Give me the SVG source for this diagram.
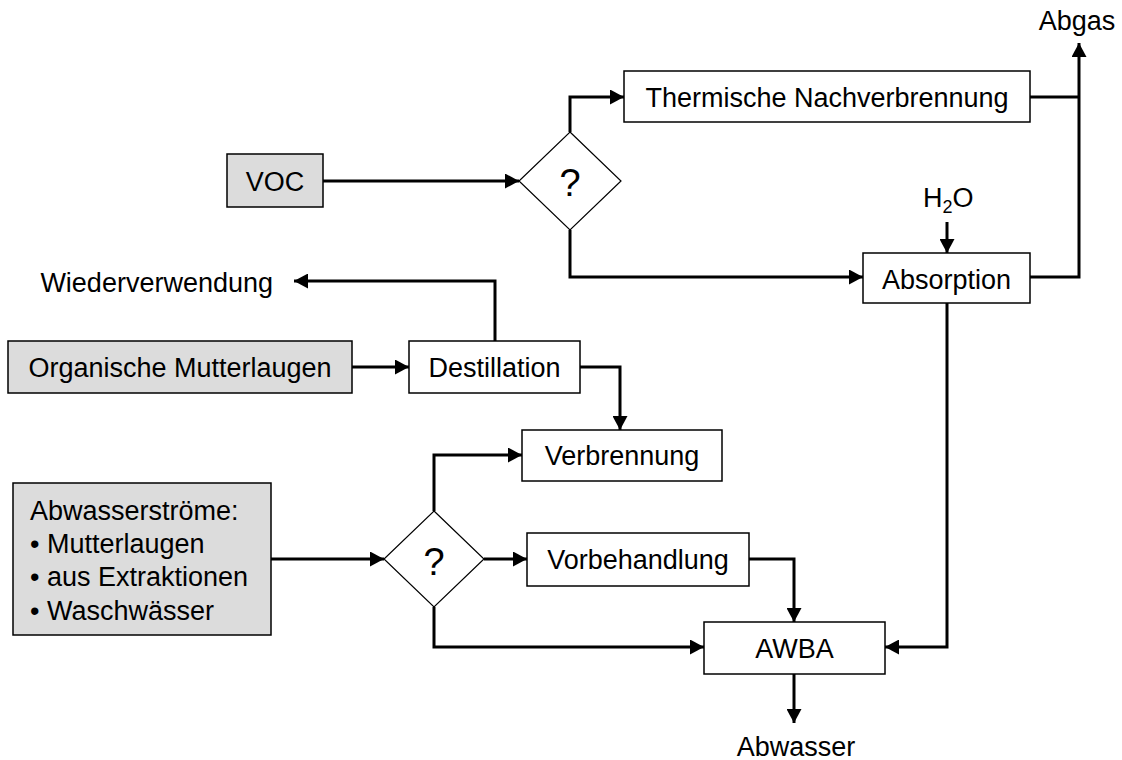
<svg xmlns="http://www.w3.org/2000/svg" width="1122" height="760" viewBox="0 0 1122 760">
<style>
.box{fill:#fff;stroke:#000;stroke-width:1.5}
.src{fill:#dcdcdc;stroke:#000;stroke-width:1.5}
.dia{fill:#fff;stroke:#000;stroke-width:1.2}
.t{font-family:"Liberation Sans",Arial,sans-serif;font-size:27px;fill:#000}
.m{text-anchor:middle}
.q{font-family:"Liberation Sans",Arial,sans-serif;font-size:38px;fill:#000;text-anchor:middle}
.c{fill:none;stroke:#000;stroke-width:3}
.a{marker-end:url(#ah)}
</style>
<defs>
<marker id="ah" markerUnits="userSpaceOnUse" markerWidth="15" markerHeight="15" refX="14" refY="7.5" orient="auto">
<path d="M0,0 L14,7.5 L0,15 z" fill="#000"/>
</marker>
</defs>
<rect width="1122" height="760" fill="#fff"/>
<g id="connectors">
<path class="c a" d="M323,181 H519"/>
<path class="c a" d="M570,132 V97 H624"/>
<path class="c a" d="M570,230 V277 H863"/>
<path class="c" d="M1030,97 H1079"/>
<path class="c a" d="M1030,277 H1079 V43"/>
<path class="c a" d="M947,222 V253"/>
<path class="c a" d="M947,303 V647 H885"/>
<path class="c a" d="M352,367 H409"/>
<path class="c a" d="M495,341 V281 H294"/>
<path class="c a" d="M580,367 H620 V430"/>
<path class="c a" d="M271,559 H384"/>
<path class="c a" d="M434,511 V455 H522"/>
<path class="c a" d="M484,559 H527"/>
<path class="c a" d="M434,607 V647 H704"/>
<path class="c a" d="M749,559 H794 V622"/>
<path class="c a" d="M794,674 V723"/>
</g>
<g id="voc"><rect class="src" x="227" y="154" width="96" height="53"/><text class="t m" x="275" y="191">VOC</text></g>
<g id="d1"><polygon class="dia" points="570,132 621,181 570,230 519,181"/><text class="q" x="570" y="196">?</text></g>
<g id="tnv"><rect class="box" x="624" y="71" width="406" height="51"/><text class="t m" x="827" y="107">Thermische Nachverbrennung</text></g>
<g id="abgas"><text class="t m" x="1077" y="30">Abgas</text></g>
<g id="h2o"><text class="t" x="923" y="207">H<tspan font-size="18" dy="6">2</tspan><tspan dy="-6">O</tspan></text></g>
<g id="absorption"><rect class="box" x="863" y="253" width="167" height="50"/><text class="t m" x="946.5" y="289">Absorption</text></g>
<g id="wieder"><text class="t" x="273" y="292" text-anchor="end">Wiederverwendung</text></g>
<g id="organische"><rect class="src" x="8" y="341" width="344" height="52"/><text class="t m" x="180" y="377">Organische Mutterlaugen</text></g>
<g id="destillation"><rect class="box" x="409" y="341" width="171" height="52"/><text class="t m" x="494.5" y="377">Destillation</text></g>
<g id="verbrennung"><rect class="box" x="522" y="430" width="200" height="51"/><text class="t m" x="622" y="465">Verbrennung</text></g>
<g id="abwasserstroeme"><rect class="src" x="13" y="483" width="258" height="152"/>
<text class="t" x="30" y="520">Abwasserströme:</text>
<text class="t" x="30" y="553">• Mutterlaugen</text>
<text class="t" x="30" y="586">• aus Extraktionen</text>
<text class="t" x="30" y="620">• Waschwässer</text></g>
<g id="d2"><polygon class="dia" points="434,511 484,559 434,607 384,559"/><text class="q" x="434" y="575">?</text></g>
<g id="vorbehandlung"><rect class="box" x="527" y="533" width="222" height="53"/><text class="t m" x="638" y="569">Vorbehandlung</text></g>
<g id="awba"><rect class="box" x="704" y="622" width="181" height="52"/><text class="t m" x="794.5" y="658">AWBA</text></g>
<g id="abwasser"><text class="t m" x="796" y="756">Abwasser</text></g>
</svg>
